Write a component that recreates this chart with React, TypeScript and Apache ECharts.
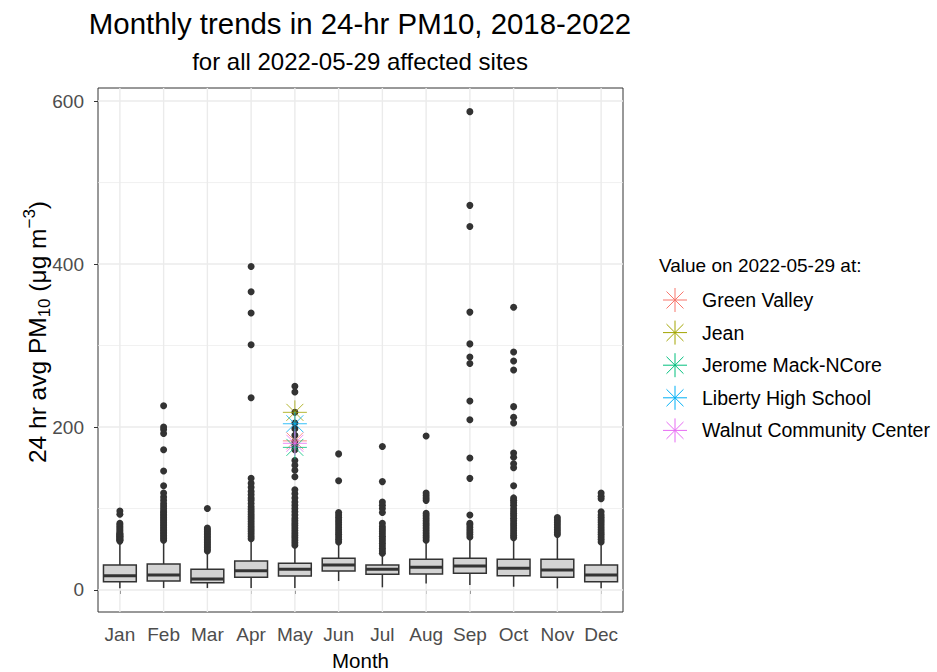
import React, { useEffect, useRef } from "react";
import * as echarts from "echarts";

const FONT = "'Liberation Sans', Arial, Helvetica, sans-serif";

const months = ["Jan", "Feb", "Mar", "Apr", "May", "Jun", "Jul", "Aug", "Sep", "Oct", "Nov", "Dec"];
const whiskerLow = [2, 2.5, 2.5, 2.5, 2.5, 11, 3.3, 8, 6, 4, 2, 2];
const q1 = [10.2, 11, 9, 15.6, 17.2, 23.3, 19.2, 19.6, 20.4, 17.5, 15.6, 10.2];
const median = [17.5, 18.4, 13.5, 23.7, 25.4, 30.7, 25.4, 27.8, 29.4, 26.6, 24.5, 18.4];
const q3 = [30.7, 31.9, 25.4, 35.6, 32.7, 38.9, 30.7, 37.6, 38.9, 37.6, 37.6, 30.7];
const whiskerHigh = [58, 59, 47, 61, 53, 57, 43, 59, 63, 62, 65, 57];

const outJan = [60, 61, 62, 63, 64, 65, 66, 67, 68, 69, 70, 72, 74, 76, 78, 80, 82, 93, 97];
const outFeb = [61, 63, 65, 67, 69, 71, 73, 75, 77, 79, 81, 83, 85, 87, 89, 91, 93, 95, 97, 100, 103, 106, 110, 114, 119, 128, 146, 172, 192, 197, 200, 226];
const outMar = [48, 50, 52, 54, 56, 58, 60, 62, 64, 66, 68, 70, 72, 74, 76, 100];
const outApr = [63, 66, 69, 72, 75, 78, 81, 84, 87, 90, 93, 96, 99, 102, 106, 110, 113, 117, 121, 126, 131, 137, 236, 301, 340, 366, 397];
const outMay = [55, 58, 61, 64, 67, 70, 73, 76, 79, 82, 85, 88, 92, 96, 100, 104, 108, 113, 118, 123, 139, 147, 153, 159, 172, 177, 182, 190, 198, 205, 218, 243, 250];
const outJun = [59, 62, 65, 68, 71, 74, 77, 80, 83, 86, 89, 92, 95, 134, 167];
const outJul = [45, 48, 51, 54, 57, 60, 63, 66, 69, 72, 75, 78, 82, 95, 100, 104, 108, 133, 176];
const outAug = [61, 64, 67, 70, 73, 76, 79, 82, 85, 88, 91, 94, 110, 113, 116, 119, 189];
const outSep = [65, 68, 71, 74, 77, 80, 82, 92, 137, 162, 209, 232, 278, 286, 302, 341, 446, 472, 587];
const outOct = [64, 67, 70, 73, 76, 79, 82, 85, 88, 91, 94, 97, 100, 104, 107, 110, 113, 128, 150, 155, 163, 168, 205, 212, 225, 270, 281, 292, 347];
const outNov = [68, 71, 74, 77, 80, 83, 86, 89];
const outDec = [59, 62, 65, 68, 71, 74, 77, 80, 83, 86, 89, 92, 96, 112, 115, 119];
const outliers = [outJan, outFeb, outMar, outApr, outMay, outJun, outJul, outAug, outSep, outOct, outNov, outDec];

const sites = ["Green Valley", "Jean", "Jerome Mack-NCore", "Liberty High School", "Walnut Community Center"];
const siteColors = ["#F8766D", "#A3A500", "#00BF7D", "#00B0F6", "#E76BF3"];
const siteValues = [183, 218, 175, 204, 180];
const siteMonthIndex = 4;

const yTicks = [0, 200, 400, 600];
const yMinor = [100, 300, 500];
const yMin = -27;
const yMax = 616;

const STAR_PATH =
  "path://M0,-10L0,10M-10,0L10,0M-7.07,-7.07L7.07,7.07M-7.07,7.07L7.07,-7.07";

export default function App() {
  const ref = useRef<HTMLDivElement>(null);

  useEffect(() => {
    document.body.style.margin = "0";
    const chart = echarts.init(ref.current!, null, { renderer: "svg" });

    const boxData = months.map((m, i) => [i, whiskerLow[i], q1[i], median[i], q3[i], whiskerHigh[i]]);
    const outlierData: number[][] = [];
    outliers.forEach((arr, i) => arr.forEach((v) => outlierData.push([i, v])));
    const hGridData = yTicks.map((v) => [0, v, 1]).concat(yMinor.map((v) => [0, v, 0]));
    const vGridData = months.map((m, i) => [i, 0]);

    const legendGraphics: any[] = [];
    legendGraphics.push({
      type: "text",
      x: 659,
      y: 265,
      style: { text: "Value on 2022-05-29 at:", fontSize: 19, fontFamily: FONT, fill: "#000", align: "left", verticalAlign: "middle" },
    });
    sites.forEach((s, i) => {
      const r = 12;
      const d = r * 0.7071;
      const c = siteColors[i];
      const ls = { stroke: c, lineWidth: 1 };
      legendGraphics.push({
        type: "group",
        x: 675,
        y: 300 + i * 32.6,
        children: [
          { type: "line", shape: { x1: 0, y1: -r, x2: 0, y2: r }, style: ls },
          { type: "line", shape: { x1: -r, y1: 0, x2: r, y2: 0 }, style: ls },
          { type: "line", shape: { x1: -d, y1: -d, x2: d, y2: d }, style: ls },
          { type: "line", shape: { x1: -d, y1: d, x2: d, y2: -d }, style: ls },
        ],
      });
      legendGraphics.push({
        type: "text",
        x: 702,
        y: 300 + i * 32.6,
        style: { text: s, fontSize: 19.5, fontFamily: FONT, fill: "#000", align: "left", verticalAlign: "middle" },
      });
    });

    const option: any = {
      animation: false,
      backgroundColor: "#ffffff",
      grid: {
        left: 98,
        top: 88,
        width: 525,
        height: 524,
        show: true,
        borderColor: "#333333",
        borderWidth: 1,
        backgroundColor: "transparent",
      },
      xAxis: {
        type: "category",
        data: months,
        boundaryGap: true,
        axisLine: { show: false },
        axisTick: { show: true, alignWithLabel: true, length: 4, lineStyle: { color: "#333333", width: 1 } },
        axisLabel: { color: "#4D4D4D", fontSize: 19, fontFamily: FONT, margin: 13, interval: 0 },
        splitLine: { show: false },
      },
      yAxis: {
        type: "value",
        min: yMin,
        max: yMax,
        axisLine: { show: false },
        axisTick: { show: true, length: 4, customValues: yTicks, lineStyle: { color: "#333333", width: 1 } },
        axisLabel: {
          color: "#4D4D4D",
          fontSize: 19,
          fontFamily: FONT,
          margin: 14,
          customValues: yTicks,
          formatter: (v: number) => (v % 200 === 0 ? String(v) : ""),
        },
        splitLine: { show: false },
      },
      graphic: [
        {
          type: "text",
          x: 360,
          y: 23,
          style: { text: "Monthly trends in 24-hr PM10, 2018-2022", fontSize: 29.4, fontFamily: FONT, fill: "#000", align: "center", verticalAlign: "middle" },
        },
        {
          type: "text",
          x: 360,
          y: 61,
          style: { text: "for all 2022-05-29 affected sites", fontSize: 24, fontFamily: FONT, fill: "#000", align: "center", verticalAlign: "middle" },
        },
        {
          type: "text",
          x: 360.5,
          y: 660,
          style: { text: "Month", fontSize: 20.5, fontFamily: FONT, fill: "#000", align: "center", verticalAlign: "middle" },
        },
        {
          type: "text",
          x: 37,
          y: 332,
          rotation: Math.PI / 2,
          style: {
            text: "{a|24 hr avg PM}{s|10}{a| (μg m}{p|−3}{a|)}",
            align: "center",
            verticalAlign: "middle",
            rich: {
              a: { fontSize: 24.5, fontFamily: FONT, fill: "#000", lineHeight: 32, verticalAlign: "middle" },
              s: { fontSize: 17, fontFamily: FONT, fill: "#000", lineHeight: 17, verticalAlign: "bottom" },
              p: { fontSize: 17, fontFamily: FONT, fill: "#000", lineHeight: 17, verticalAlign: "top" },
            },
          },
        },
        ...legendGraphics,
      ],
      series: [
        {
          type: "custom",
          name: "hgrid",
          silent: true,
          z: 1,
          data: hGridData,
          encode: { x: 0, y: 1 },
          renderItem: (params: any, api: any) => {
            const cs = params.coordSys;
            const y = api.coord([0, api.value(1)])[1];
            return {
              type: "line",
              shape: { x1: cs.x, y1: y, x2: cs.x + cs.width, y2: y },
              style: { stroke: "#EBEBEB", lineWidth: api.value(2) ? 1.4 : 0.7 },
            };
          },
        },
        {
          type: "custom",
          name: "vgrid",
          silent: true,
          z: 1,
          data: vGridData,
          encode: { x: 0, y: 1 },
          renderItem: (params: any, api: any) => {
            const cs = params.coordSys;
            const x = api.coord([api.value(0), 0])[0];
            return {
              type: "line",
              shape: { x1: x, y1: cs.y, x2: x, y2: cs.y + cs.height },
              style: { stroke: "#EBEBEB", lineWidth: 1.4 },
            };
          },
        },
        {
          type: "custom",
          name: "boxes",
          z: 2,
          data: boxData,
          encode: { x: 0, y: [1, 2, 3, 4, 5] },
          renderItem: (params: any, api: any) => {
            const x = api.value(0);
            const pLo = api.coord([x, api.value(1)]);
            const pQ1 = api.coord([x, api.value(2)]);
            const pMed = api.coord([x, api.value(3)]);
            const pQ3 = api.coord([x, api.value(4)]);
            const pHi = api.coord([x, api.value(5)]);
            const w = api.size([1, 0])[0] * 0.75;
            const cx = pMed[0];
            const st = { stroke: "#333333", lineWidth: 1.5 };
            return {
              type: "group",
              children: [
                { type: "line", shape: { x1: cx, y1: pHi[1], x2: cx, y2: pQ3[1] }, style: st },
                { type: "line", shape: { x1: cx, y1: pQ1[1], x2: cx, y2: pLo[1] }, style: st },
                {
                  type: "rect",
                  shape: { x: cx - w / 2, y: pQ3[1], width: w, height: pQ1[1] - pQ3[1] },
                  style: { fill: "#D3D3D3", stroke: "#333333", lineWidth: 1.5 },
                },
                { type: "line", shape: { x1: cx - w / 2, y1: pMed[1], x2: cx + w / 2, y2: pMed[1] }, style: { stroke: "#333333", lineWidth: 3 } },
              ],
            };
          },
        },
        {
          type: "scatter",
          name: "outliers",
          z: 3,
          data: outlierData,
          symbol: "circle",
          symbolSize: 7,
          itemStyle: { color: "#333333", opacity: 1 },
          silent: true,
        },
        ...sites.map((s, i) => ({
          type: "scatter",
          name: s,
          z: 4,
          data: [[siteMonthIndex, siteValues[i]]],
          symbol: STAR_PATH,
          symbolSize: 24,
          itemStyle: { color: "transparent", borderColor: siteColors[i], borderWidth: 1 },
          silent: true,
        })),
      ],
    };

    chart.setOption(option);
    return () => chart.dispose();
  }, []);

  return <div ref={ref} style={{ width: 937, height: 672 }} />;
}
